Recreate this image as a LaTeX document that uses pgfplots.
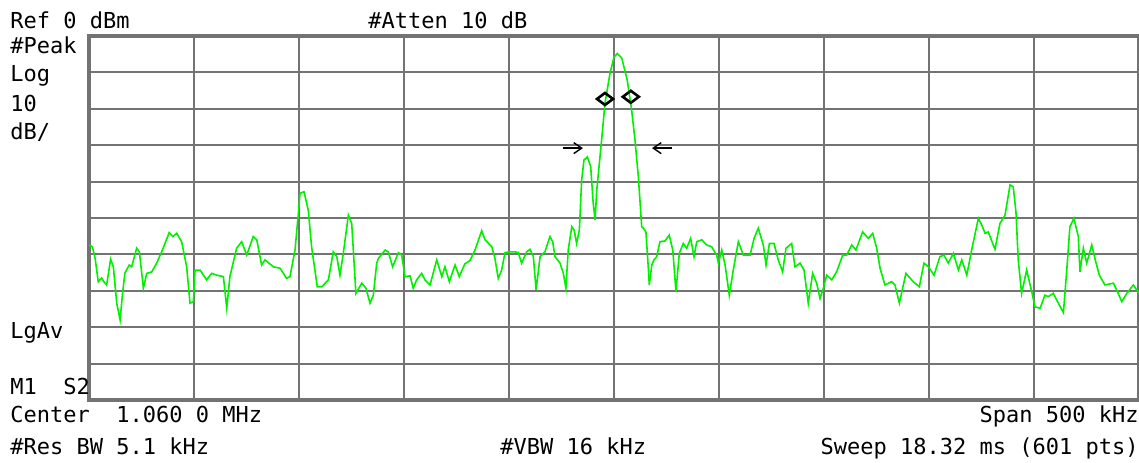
\documentclass[border=0pt]{standalone}
\usepackage{pgfplots}
\pgfplotsset{compat=1.18}
\usepackage{fontspec}
\setmainfont{DejaVu Sans Mono}
\usetikzlibrary{arrows.meta}
\definecolor{trace}{RGB}{0,240,0}
\definecolor{gridc}{RGB}{115,115,115}
\begin{document}
\begin{tikzpicture}
\path[use as bounding box] (-44.5pt,-31pt) rectangle (525pt,200pt);
\begin{axis}[
  at={(0,0)}, anchor=south west,
  scale only axis, width=525pt, height=182pt,
  xmin=0.81, xmax=1.31, ymin=-100, ymax=0,
  xtick={0.81,0.86,...,1.32}, ytick={-100,-90,...,0},
  xticklabels={}, yticklabels={},
  major tick length=0pt,
  grid=major,
  grid style={gridc, line width=1pt},
  axis line style={gridc, line width=1.6pt},
  clip=true,
]
\addplot[trace, line width=0.8pt, mark=none] table {
x y
0.8100 -57.4
0.8116 -57.9
0.8129 -61.0
0.8144 -67.5
0.8160 -66.5
0.8171 -67.5
0.8184 -68.4
0.8203 -61.3
0.8216 -63.4
0.8232 -73.4
0.8248 -78.0
0.8260 -70.6
0.8271 -65.1
0.8292 -62.9
0.8303 -63.4
0.8327 -58.3
0.8340 -59.3
0.8359 -69.3
0.8375 -65.2
0.8399 -64.8
0.8422 -62.4
0.8446 -59.3
0.8482 -54.0
0.8499 -55.1
0.8518 -54.2
0.8541 -56.5
0.8565 -63.4
0.8581 -73.4
0.8597 -73.0
0.8605 -64.3
0.8629 -64.3
0.8660 -67.0
0.8684 -65.2
0.8708 -65.7
0.8740 -66.1
0.8756 -74.8
0.8771 -66.1
0.8803 -58.3
0.8827 -56.5
0.8851 -60.2
0.8882 -55.1
0.8899 -56.0
0.8922 -62.9
0.8938 -61.5
0.8978 -63.4
0.9010 -63.8
0.9041 -66.6
0.9057 -66.1
0.9081 -58.8
0.9097 -48.7
0.9105 -43.2
0.9124 -42.8
0.9144 -47.8
0.9160 -57.9
0.9187 -68.9
0.9208 -68.9
0.9240 -67.0
0.9263 -59.3
0.9280 -60.6
0.9295 -65.7
0.9311 -59.7
0.9335 -49.2
0.9351 -51.5
0.9371 -70.7
0.9399 -67.9
0.9419 -69.3
0.9438 -73.4
0.9454 -71.2
0.9470 -62.4
0.9478 -61.1
0.9510 -58.8
0.9525 -59.3
0.9546 -63.4
0.9573 -59.5
0.9589 -60.2
0.9605 -66.1
0.9629 -65.9
0.9644 -69.3
0.9660 -67.0
0.9684 -65.2
0.9700 -67.0
0.9724 -68.4
0.9756 -61.5
0.9780 -66.1
0.9795 -63.4
0.9816 -67.5
0.9843 -62.9
0.9863 -66.1
0.9890 -62.6
0.9914 -61.7
0.9938 -58.8
0.9970 -53.5
0.9986 -56.0
1.0018 -57.9
1.0033 -61.1
1.0049 -66.6
1.0065 -64.3
1.0081 -59.5
1.0105 -59.3
1.0129 -59.3
1.0144 -59.5
1.0160 -62.4
1.0184 -59.3
1.0200 -58.6
1.0216 -60.6
1.0229 -69.8
1.0248 -60.6
1.0271 -59.3
1.0295 -55.1
1.0308 -56.5
1.0319 -60.6
1.0343 -62.4
1.0359 -65.2
1.0371 -69.3
1.0382 -58.8
1.0399 -52.4
1.0410 -53.3
1.0422 -57.0
1.0435 -53.3
1.0446 -39.6
1.0457 -34.1
1.0473 -33.2
1.0489 -35.9
1.0501 -46.0
1.0510 -50.5
1.0518 -42.3
1.0541 -28.6
1.0557 -18.5
1.0581 -10.2
1.0600 -5.8
1.0616 -4.8
1.0637 -6.1
1.0663 -12.1
1.0684 -20.3
1.0700 -28.6
1.0716 -38.7
1.0732 -52.4
1.0740 -52.8
1.0752 -53.8
1.0763 -63.4
1.0768 -68.4
1.0780 -62.9
1.0790 -61.5
1.0803 -60.7
1.0819 -56.5
1.0843 -56.3
1.0863 -54.7
1.0880 -58.8
1.0895 -70.2
1.0911 -59.7
1.0930 -57.0
1.0946 -58.3
1.0965 -55.6
1.0981 -60.6
1.0994 -56.5
1.1018 -56.0
1.1041 -57.4
1.1065 -57.9
1.1089 -60.2
1.1097 -62.4
1.1113 -58.8
1.1129 -62.9
1.1149 -71.2
1.1168 -64.3
1.1192 -56.5
1.1216 -60.2
1.1248 -60.2
1.1267 -55.6
1.1287 -52.8
1.1311 -57.4
1.1324 -62.9
1.1340 -57.0
1.1362 -57.0
1.1382 -61.5
1.1403 -64.8
1.1419 -58.3
1.1446 -57.0
1.1462 -63.4
1.1486 -62.4
1.1505 -64.3
1.1525 -73.4
1.1546 -65.2
1.1565 -67.9
1.1581 -72.1
1.1597 -69.3
1.1613 -65.7
1.1637 -67.0
1.1660 -64.8
1.1689 -60.2
1.1708 -60.2
1.1732 -57.4
1.1752 -58.8
1.1784 -53.8
1.1811 -55.6
1.1832 -54.2
1.1851 -58.3
1.1867 -63.8
1.1890 -68.4
1.1922 -67.5
1.1938 -68.4
1.1959 -73.4
1.1990 -65.2
1.2025 -67.5
1.2054 -68.9
1.2076 -62.4
1.2097 -63.4
1.2124 -65.7
1.2152 -60.6
1.2171 -60.2
1.2192 -62.4
1.2216 -59.7
1.2240 -64.3
1.2256 -61.5
1.2280 -65.7
1.2303 -58.8
1.2335 -50.1
1.2351 -51.9
1.2367 -54.2
1.2382 -53.8
1.2414 -58.6
1.2438 -51.5
1.2462 -49.2
1.2486 -40.9
1.2501 -41.4
1.2514 -48.3
1.2525 -61.5
1.2541 -70.7
1.2565 -64.3
1.2589 -70.2
1.2605 -74.4
1.2629 -74.8
1.2652 -71.2
1.2668 -71.6
1.2692 -70.7
1.2716 -73.4
1.2740 -76.0
1.2756 -64.3
1.2771 -52.4
1.2790 -50.1
1.2811 -55.1
1.2819 -64.8
1.2835 -58.3
1.2851 -62.4
1.2875 -57.4
1.2890 -61.1
1.2911 -65.7
1.2938 -68.4
1.2978 -67.9
1.2994 -69.8
1.3018 -73.0
1.3042 -70.7
1.3073 -68.4
1.3100 -70.7
};
% markers
\addplot[only marks, mark=diamond, mark size=4pt, line width=1.3pt, black,
  mark options={rotate=90}] coordinates {(1.0557,-17.3) (1.0680,-16.7)};
% bandwidth arrows
\addplot[black, line width=0.7pt, -{Straight Barb[length=4pt,width=5.5pt]}] coordinates {(1.0355,-30.8) (1.0452,-30.8)};
\addplot[black, line width=0.7pt, -{Straight Barb[length=4pt,width=5.5pt]}] coordinates {(1.0878,-30.8) (1.0781,-30.8)};
\end{axis}
\begin{scope}[every node/.style={inner sep=0pt, font=\fontsize{11}{13}\selectfont}]
\node[anchor=base west] at (-39.5pt,186pt) {Ref 0 dBm};
\node[anchor=base west] at (139.5pt,186pt) {\#Atten 10 dB};
\node[anchor=base west] at (-39.5pt,173.5pt) {\#Peak};
\node[anchor=base west] at (-39.5pt,159.5pt) {Log};
\node[anchor=base west] at (-39.5pt,144.5pt) {10};
\node[anchor=base west] at (-39.5pt,130.5pt) {dB/};
\node[anchor=base west] at (-39.5pt,31pt) {LgAv};
\node[anchor=base west] at (-39.5pt,3pt) {M1\ \ S2};
\node[anchor=base west] at (-39.5pt,-11pt) {Center\ \ 1.060 0 MHz};
\node[anchor=base east] at (525pt,-11pt) {Span 500 kHz};
\node[anchor=base west] at (-39.5pt,-27pt) {\#Res BW 5.1 kHz};
\node[anchor=base west] at (205.5pt,-27pt) {\#VBW 16 kHz};
\node[anchor=base east] at (525pt,-27pt) {Sweep 18.32 ms (601 pts)};
\end{scope}
\end{tikzpicture}
\end{document}
